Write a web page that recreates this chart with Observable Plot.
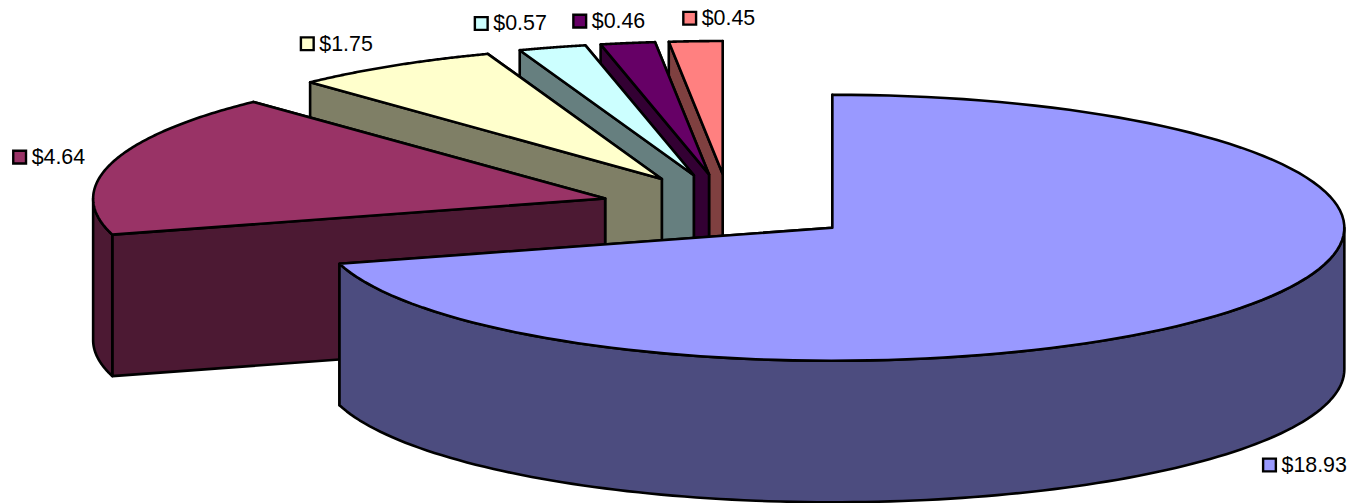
<!DOCTYPE html>
<html>
<head>
<meta charset="utf-8">
<script src="https://cdn.jsdelivr.net/npm/d3@7"></script>
<script src="https://cdn.jsdelivr.net/npm/@observablehq/plot@0.6"></script>
<style>html,body{margin:0;padding:0;background:#fff;overflow:hidden}svg{display:block}</style>
</head>
<body>
<div id="chart"></div>
<script>
// Data
const values = [18.93, 4.64, 1.75, 0.57, 0.46, 0.45];
const labels = ["$18.93", "$4.64", "$1.75", "$0.57", "$0.46", "$0.45"];
const topColors = ["#9999FF", "#993366", "#FFFFCC", "#CCFFFF", "#660066", "#FF8080"];
const sideColors = ["#4C4C7F", "#4C1933", "#7F7F66", "#667F7F", "#330033", "#7F4040"];
// Label anchor positions relative to the rim point at each slice's mid-angle
const labelDx = [41, -80, -74, -59, -36, 6];
const labelDy = [157, -6, -22, -24, -22, -23];

// Layout
const W = 1352, H = 503;
const cx = 729, cy = 207, rx = 512, ry = 133, depth = 141.5, explode = 0.252;
const total = d3.sum(values);
const rad = d => d * Math.PI / 180;

let acc = 0;
const slices = values.map((v, i) => {
  const a0 = acc / total * 360;
  acc += v;
  const a1 = acc / total * 360;
  const mid = (a0 + a1) / 2;
  const ax = cx + explode * rx * Math.sin(rad(mid));
  const ay = cy - explode * ry * Math.cos(rad(mid));
  return {i, a0, a1, mid, ax, ay};
});
const rim = (s, a) => [s.ax + rx * Math.sin(rad(a)), s.ay - ry * Math.cos(rad(a))];
const arc = (s, a0, a1) => d3.range(0, 121).map(k => rim(s, a0 + (a1 - a0) * k / 120));
const down = p => [p[0], p[1] + depth];

const poly = (pts, fill) => Plot.line([...pts, pts[0]], {
  x: d => d[0], y: d => d[1], fill, stroke: "#000", strokeWidth: 2.6,
  strokeLinejoin: "round", curve: "linear"
});

const marks = [];
// back-to-front painter's order
[5, 4, 3, 2, 1, 0].forEach(i => {
  const s = slices[i], apex = [s.ax, s.ay], side = sideColors[i];
  // radial walls
  [s.a1, s.a0].forEach(a => {
    const p = rim(s, a);
    marks.push(poly([apex, p, down(p), down(apex)], side));
  });
  // outer wall, front half only
  const f0 = Math.max(s.a0, 90), f1 = Math.min(s.a1, 270);
  if (f1 > f0) {
    const e = arc(s, f0, f1);
    marks.push(poly([...e, ...e.map(down).reverse()], side));
  }
  // top face
  marks.push(poly([apex, ...arc(s, s.a0, s.a1)], topColors[i]));
});

// Labels with square keys
const labelData = slices.map(s => {
  const p = rim(s, s.mid);
  return {label: labels[s.i], color: topColors[s.i], x: p[0] + labelDx[s.i], y: p[1] + labelDy[s.i]};
});
marks.push(Plot.dot(labelData, {
  x: "x", y: "y", dx: -12, symbol: "square", r: 7.2,
  fill: "color", stroke: "#000", strokeWidth: 2.4
}));
marks.push(Plot.text(labelData, {
  x: "x", y: "y", text: "label", textAnchor: "start", lineAnchor: "middle",
  fontSize: 21.4, fontFamily: "Liberation Sans", fill: "#000"
}));

const chart = Plot.plot({
  width: W, height: H, margin: 0,
  style: {background: "#fff", overflow: "visible"},
  x: {type: "linear", domain: [0, W], range: [0, W], axis: null},
  y: {type: "linear", domain: [0, H], range: [0, H], axis: null},
  color: {type: "identity"},
  marks
});
document.getElementById("chart").append(chart);
</script>
</body>
</html>
